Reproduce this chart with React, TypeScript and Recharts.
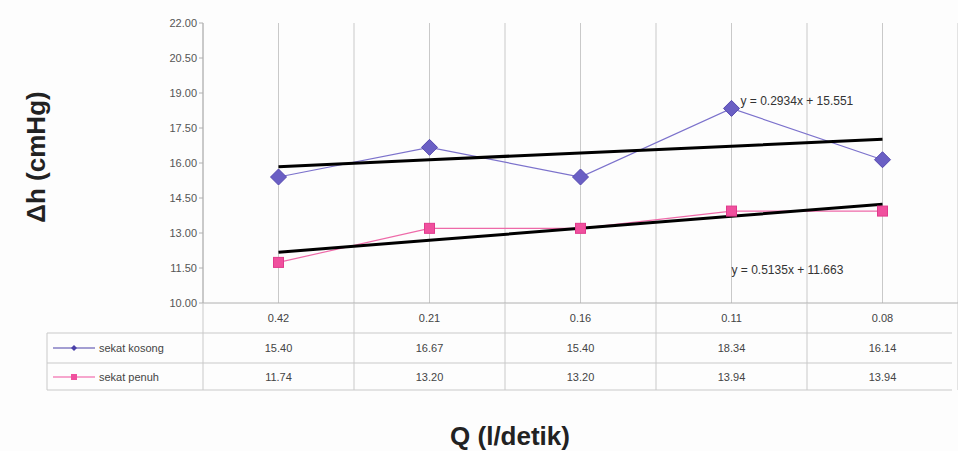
import { ComposedChart, Line, XAxis, YAxis, CartesianGrid, LabelList } from "recharts";

const categories = ["0.42", "0.21", "0.16", "0.11", "0.08"];
const sekatKosong = [15.4, 16.67, 15.4, 18.34, 16.14];
const sekatPenuh = [11.74, 13.2, 13.2, 13.94, 13.94];
// linear trend values (y = 0.2934x + 15.551, y = 0.5135x + 11.663)
const trendKosong = [15.84, 16.14, 16.43, 16.72, 17.02];
const trendPenuh = [12.18, 12.69, 13.2, 13.72, 14.23];
const yTicks = [10, 11.5, 13, 14.5, 16, 17.5, 19, 20.5, 22];
const xTicks = [0.5, 1, 1.5, 2, 2.5, 3, 3.5, 4, 4.5, 5, 5.5];

const W = 958;
const H = 451;
const PLOT_LEFT = 203;
const PLOT_TOP = 23;
const PLOT_BOTTOM = 303;
const Y_AXIS_W = 60;
const X_AXIS_H = 90;
const ROW_1 = 333;
const ROW_2 = 363;
const TABLE_BOTTOM = 390;

const FONT = "'Liberation Sans', Arial, sans-serif";
const KOSONG = "#6a5fc4";
const PENUH = "#f0509e";
const GRID = "#c9c9c9";

const rows = categories.map((q, i) => ({
  x: i + 1,
  q,
  kosong: sekatKosong[i],
  penuh: sekatPenuh[i],
  tK: trendKosong[i],
  tP: trendPenuh[i],
}));

const Diamond = (p: any) => {
  const { cx, cy } = p;
  if (cx == null || cy == null) return null;
  const r = 8;
  return (
    <path
      key={`d${p.index}`}
      d={`M${cx},${cy - r}L${cx + r},${cy}L${cx},${cy + r}L${cx - r},${cy}Z`}
      fill={KOSONG}
      stroke="#5548b0"
      strokeWidth={1}
    />
  );
};

const Square = (p: any) => {
  const { cx, cy } = p;
  if (cx == null || cy == null) return null;
  const r = 5;
  return <rect key={`s${p.index}`} x={cx - r} y={cy - r} width={r * 2} height={r * 2} fill={PENUH} stroke="#e03a8c" />;
};

const txt = { fontFamily: FONT, fontSize: 11, fill: "#444" } as const;

function TableTick(props: any) {
  const { x, payload } = props;
  const v = payload.value as number;
  if (Number.isInteger(v)) {
    const i = v - 1;
    return (
      <g>
        <text x={x} y={322} textAnchor="middle" {...txt}>{categories[i]}</text>
        <text x={x} y={352} textAnchor="middle" {...txt}>{sekatKosong[i].toFixed(2)}</text>
        <text x={x} y={381} textAnchor="middle" {...txt}>{sekatPenuh[i].toFixed(2)}</text>
      </g>
    );
  }
  const legendLeft = 47;
  return (
    <g>
      <line x1={x} x2={x} y1={PLOT_BOTTOM} y2={TABLE_BOTTOM} stroke={GRID} />
      {v === 0.5 && (
        <g>
          <line x1={legendLeft} x2={W - 6} y1={ROW_1} y2={ROW_1} stroke={GRID} />
          <line x1={legendLeft} x2={W - 6} y1={ROW_2} y2={ROW_2} stroke={GRID} />
          <line x1={legendLeft} x2={W - 6} y1={TABLE_BOTTOM} y2={TABLE_BOTTOM} stroke={GRID} />
          <line x1={legendLeft} x2={legendLeft} y1={ROW_1} y2={TABLE_BOTTOM} stroke={GRID} />
          <line x1={53} x2={95} y1={348} y2={348} stroke="#4a40a8" strokeWidth={1.2} />
          <path d="M74,345L77,348L74,351L71,348Z" fill="#4a40a8" />
          <text x={99} y={352} {...txt}>sekat kosong</text>
          <line x1={53} x2={95} y1={377} y2={377} stroke={PENUH} strokeWidth={1.2} />
          <rect x={71} y={374} width={6} height={6} fill={PENUH} />
          <text x={99} y={381} {...txt}>sekat penuh</text>
        </g>
      )}
    </g>
  );
}

const eqLabel = (text: string, dx: number, dy: number) => (p: any) =>
  p.index === 3 ? (
    <text x={p.x + dx} y={p.y + dy} fontFamily={FONT} fontSize={12} fill="#333">
      {text}
    </text>
  ) : null;

export default function App() {
  return (
    <div style={{ position: "absolute", left: 0, top: 0, width: W, height: H, background: "#fdfdfd", overflow: "hidden" }}>
      <ComposedChart
        width={W}
        height={H}
        data={rows}
        margin={{ top: PLOT_TOP, right: 0, left: PLOT_LEFT - Y_AXIS_W, bottom: H - PLOT_BOTTOM - X_AXIS_H }}
      >
        <CartesianGrid horizontal={false} stroke={GRID} />
        <XAxis
          dataKey="x"
          type="number"
          domain={[0.5, 5.5]}
          ticks={xTicks}
          interval={0}
          height={X_AXIS_H}
          axisLine={{ stroke: "#b0b0b0" }}
          tickLine={false}
          tickSize={0}
          tick={<TableTick />}
        />
        <YAxis
          domain={[10, 22]}
          ticks={yTicks}
          width={Y_AXIS_W}
          interval={0}
          tickFormatter={(v: number) => v.toFixed(2)}
          axisLine={{ stroke: "#b0b0b0" }}
          tickLine={{ stroke: "#b0b0b0" }}
          tickSize={4}
          tick={{ fontSize: 11, fill: "#555", fontFamily: FONT }}
        />
        <Line dataKey="kosong" stroke="#7c72cc" strokeWidth={1.2} dot={Diamond} activeDot={false} isAnimationActive={false} />
        <Line dataKey="penuh" stroke="#ee6aa9" strokeWidth={1.2} dot={Square} activeDot={false} isAnimationActive={false} />
        <Line dataKey="tK" stroke="#000" strokeWidth={3} dot={false} activeDot={false} isAnimationActive={false}>
          <LabelList dataKey="tK" content={eqLabel("y = 0.2934x + 15.551", 9, -41)} />
        </Line>
        <Line dataKey="tP" stroke="#000" strokeWidth={3} dot={false} activeDot={false} isAnimationActive={false}>
          <LabelList dataKey="tP" content={eqLabel("y = 0.5135x + 11.663", 0, 58)} />
        </Line>
      </ComposedChart>
      <div
        style={{
          position: "absolute",
          left: 36,
          top: 157,
          transform: "translate(-50%, -50%) rotate(-90deg)",
          fontFamily: FONT,
          fontWeight: "bold",
          fontSize: 26,
          color: "#222",
          whiteSpace: "nowrap",
        }}
      >
        Δh (cmHg)
      </div>
      <div
        style={{
          position: "absolute",
          left: 510,
          top: 436,
          transform: "translate(-50%, -50%)",
          fontFamily: FONT,
          fontWeight: "bold",
          fontSize: 26,
          color: "#222",
          whiteSpace: "nowrap",
        }}
      >
        Q (l/detik)
      </div>
    </div>
  );
}
